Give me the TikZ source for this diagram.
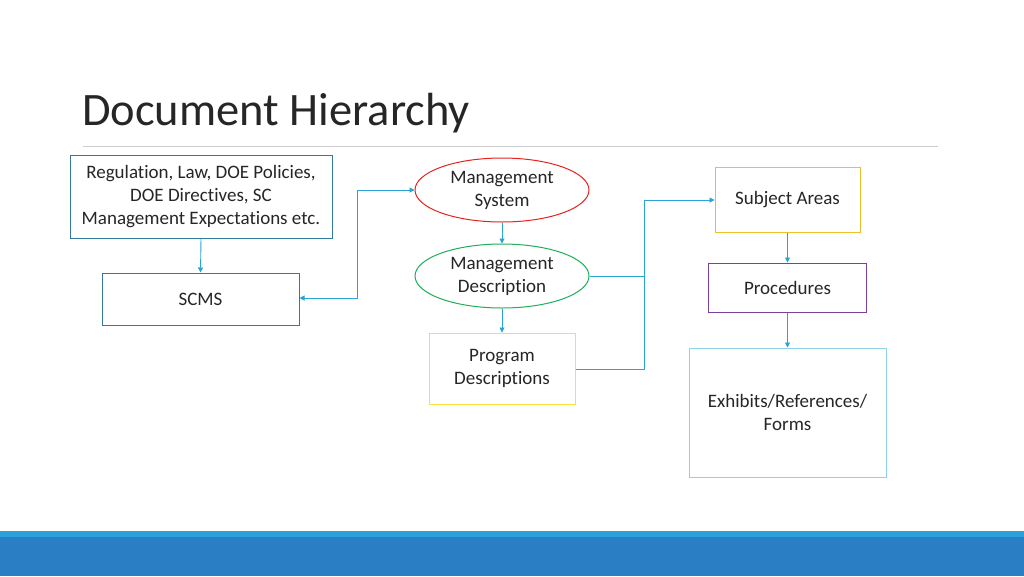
\documentclass[tikz,border=0pt]{standalone}
\usepackage{fontspec}
\setmainfont{Carlito}[Ligatures={NoCommon}]
\usetikzlibrary{arrows.meta,shapes.geometric}
\definecolor{tealb}{HTML}{31799F}
\definecolor{conn}{HTML}{2AA3D6}
\definecolor{redc}{HTML}{E8231F}
\definecolor{greenc}{HTML}{1FAF5A}
\definecolor{yellowc}{HTML}{F5E53A}
\definecolor{goldc}{HTML}{EEC02A}
\definecolor{purplec}{HTML}{7B3F9E}
\definecolor{lblue}{HTML}{8ED3E8}
\definecolor{bandtop}{HTML}{2AA0DC}
\definecolor{band}{HTML}{2A7FC4}
\begin{document}
\begin{tikzpicture}[x=1pt,y=-1pt,
  txt/.style={font=\fontsize{19}{23}\selectfont,align=center,text=black!85,inner sep=0pt},
  bx/.style={draw,line width=1pt,txt},
  el/.style={draw,ellipse,line width=1pt,txt,minimum width=174pt,minimum height=64pt,inner sep=0pt},
  con/.style={draw=conn,line width=0.9pt,-{Triangle[length=5pt,width=5pt]}}]
\useasboundingbox (0,0) rectangle (1024,576);
\fill[white] (0,0) rectangle (1024,576);
\fill[band] (0,531) rectangle (1024,576);
\fill[bandtop] (0,531) rectangle (1024,537);
\node[anchor=base west,inner sep=0pt,font=\fontsize{46.5}{52}\selectfont,text=black!85] (title) at (82,125) {Document Hierarchy};
\draw[black!20,line width=1pt] (83,146) -- (938,146);
\node[bx,draw=tealb,minimum width=262pt,minimum height=83pt] (reg) at (201,196.5) {Regulation, Law, DOE Policies,\\DOE Directives, SC\\Management Expectations etc.};
\node[bx,draw=tealb,minimum width=197pt,minimum height=52pt] (scms) at (200.5,299) {SCMS};
\node[el,draw=redc] (ms) at (502,190) {Management\\System};
\node[el,draw=greenc] (md) at (502,276) {Management\\Description};
\node[bx,draw=yellowc,minimum width=146pt,minimum height=71pt] (pd) at (502,368.5) {Program\\Descriptions};
\node[bx,draw=goldc,minimum width=145pt,minimum height=65pt] (sa) at (787.5,199.5) {Subject Areas};
\node[bx,draw=purplec,minimum width=158pt,minimum height=49pt] (pr) at (787.5,287.5) {Procedures};
\node[bx,draw=lblue,minimum width=197pt,minimum height=129pt] (ex) at (787.5,412.5) {Exhibits/References/\\Forms};
\coordinate (j1) at (357,298);
\coordinate (j2) at (357,190);
\coordinate (k1) at (644,276);
\coordinate (k2) at (644,369);
\coordinate (k3) at (644,200);
\draw[con] (reg.south) -- (scms.north);
\draw[con,{Triangle[length=5pt,width=5pt]}-{Triangle[length=5pt,width=5pt]}] (scms.east |- j1) -- (j1) -- (j2) -- (ms.west);
\draw[con] (ms.south) -- (md.north);
\draw[con] (md.south) -- (pd.north);
\draw[draw=conn,line width=0.9pt] (md.east) -- (k1);
\draw[draw=conn,line width=0.9pt] (pd.east |- k2) -- (k2) -- (k3);
\draw[con] (k3) -- (sa.west |- k3);
\draw[con] (sa.south) -- (pr.north);
\draw[con] (pr.south) -- (ex.north);
\end{tikzpicture}
\end{document}
